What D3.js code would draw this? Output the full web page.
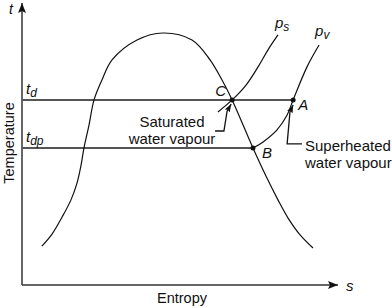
<!DOCTYPE html>
<html><head><meta charset="utf-8">
<script src="https://cdn.jsdelivr.net/npm/d3@7"></script>
<style>
html,body{margin:0;padding:0;background:#fff;}
text{font-family:"Liberation Sans",Arial,sans-serif;fill:#111;}
</style></head>
<body><svg id="c" width="392" height="308"></svg>
<script>
// ---- data (entropy s, temperature t in arbitrary units) ----
const domeS = [0.63,0.95,1.27,1.55,1.74,1.87,1.96,2.12,2.28,2.53,2.85,3.64,4.46,5.38,5.95,6.33,6.65,7.31,7.72,8.10,8.42,8.80,9.21];
const domeT = [1.39,1.82,2.43,3.04,3.64,4.29,4.89,5.71,6.61,7.32,8.04,8.75,9.00,8.75,8.04,7.32,6.61,4.89,3.89,3.04,2.39,1.79,1.32];
const psS = [6.20,6.65,7.09,7.47,7.78,8.10];
const psT = [6.18,6.61,7.14,7.79,8.39,8.93];
const pvS = [7.31,7.63,8.07,8.39,8.58,9.02,9.40];
const pvT = [4.89,5.11,5.54,6.07,6.61,7.79,8.57];
const levelNames = ["d","dp"];
const levelT = [6.61,4.89];
const levelEndS = [8.58,7.31];
const pointNames = ["C","A","B"];
const pointS = [6.65,8.58,7.31];
const pointT = [6.61,6.61,4.89];
const satArrowS = [6.11,6.39,6.49,6.62];
const satArrowT = [5.50,5.50,6.21,6.46];
const supArrowS = [8.86,8.39,8.48,8.58];
const supArrowT = [5.04,5.04,6.18,6.43];
const satLabel = ["Saturated","water vapour"];
const supLabel = ["Superheated","water vapour"];

const svg = d3.select("#c");
const x = d3.scaleLinear().domain([0,10]).range([22,338]);
const y = d3.scaleLinear().domain([0,10]).range([285,5]);

const defs = svg.append("defs");
defs.append("marker").attr("id","axh").attr("viewBox","0 0 10 8").attr("refX",10).attr("refY",4)
  .attr("markerWidth",10).attr("markerHeight",8).attr("markerUnits","userSpaceOnUse").attr("orient","auto")
  .append("path").attr("d","M0,0 L10,4 L0,8 L2,4 Z").attr("fill","#111");
defs.append("marker").attr("id","anh").attr("viewBox","0 0 8 6").attr("refX",8).attr("refY",3)
  .attr("markerWidth",8).attr("markerHeight",6).attr("markerUnits","userSpaceOnUse").attr("orient","auto")
  .append("path").attr("d","M0,0 L8,3 L0,6 L1.5,3 Z").attr("fill","#111");

// axes
svg.append("line").attr("x1",x(0)).attr("y1",y(0)).attr("x2",x(0)).attr("y2",y(10)-2)
  .attr("stroke","#333").attr("stroke-width",1.5).attr("marker-end","url(#axh)");
svg.append("line").attr("x1",x(0)).attr("y1",y(0)).attr("x2",x(10)).attr("y2",y(0))
  .attr("stroke","#333").attr("stroke-width",1.5).attr("marker-end","url(#axh)");
svg.append("text").attr("x",x(0)-13).attr("y",14).attr("font-size",14).attr("font-style","italic").text("t");
svg.append("text").attr("x",x(10)+8).attr("y",y(0)+6).attr("font-size",15).attr("font-style","italic").text("s");
svg.append("text").attr("x",182).attr("y",303).attr("text-anchor","middle").attr("font-size",14.5).text("Entropy");
svg.append("text").attr("transform","translate(14,143) rotate(-90)").attr("text-anchor","middle").attr("font-size",14.5).text("Temperature");

// level lines
levelT.forEach((t,i)=>{
  svg.append("line").attr("x1",x(0)).attr("x2",x(levelEndS[i])).attr("y1",y(t)).attr("y2",y(t))
    .attr("stroke","#555").attr("stroke-width",2);
  const tx = svg.append("text").attr("x",x(0)+4).attr("y",y(t)-6).attr("font-size",15).attr("font-style","italic");
  tx.append("tspan").text("t");
  tx.append("tspan").attr("dy",3).attr("font-size",12).text(levelNames[i]);
});

const line = d3.line().x(d=>x(d[0])).y(d=>y(d[1])).curve(d3.curveCatmullRom.alpha(0.5));
const zip=(a,b)=>a.map((v,i)=>[v,b[i]]);
svg.append("path").attr("d",line(zip(domeS,domeT))).attr("fill","none").attr("stroke","#111").attr("stroke-width",1.2);
svg.append("path").attr("d",line(zip(psS,psT))).attr("fill","none").attr("stroke","#111").attr("stroke-width",1.2);
svg.append("path").attr("d",line(zip(pvS,pvT))).attr("fill","none").attr("stroke","#111").attr("stroke-width",1.2);

// curve labels
function sub(xp,yp,main,s){
  const t=svg.append("text").attr("x",xp).attr("y",yp).attr("font-size",15).attr("font-style","italic");
  t.append("tspan").text(main);
  t.append("tspan").attr("dy",3).attr("font-size",12).text(s);
}
sub(x(psS[psS.length-1])-3, y(psT[psT.length-1])-7, "p","s");
sub(x(pvS[pvS.length-1])-4, y(pvT[pvT.length-1])-9, "p","v");

// points
svg.selectAll("circle.pt").data(pointNames).enter().append("circle")
  .attr("cx",(d,i)=>x(pointS[i])).attr("cy",(d,i)=>y(pointT[i])).attr("r",2.5).attr("fill","#111");
const off = {C:[-17,-4],A:[5,10],B:[9,10]};
svg.selectAll("text.pl").data(pointNames).enter().append("text")
  .attr("x",(d,i)=>x(pointS[i])+off[d][0]).attr("y",(d,i)=>y(pointT[i])+off[d][1])
  .attr("font-size",15).attr("font-style","italic").text(d=>d);

// annotation arrows
const pl = d3.line().x(d=>x(d[0])).y(d=>y(d[1]));
[[satArrowS,satArrowT],[supArrowS,supArrowT]].forEach(([a,b])=>{
  svg.append("path").attr("d",pl(zip(a,b))).attr("fill","none").attr("stroke","#111").attr("stroke-width",1.3).attr("marker-end","url(#anh)");
});
const st = svg.append("text").attr("text-anchor","middle").attr("font-size",15);
satLabel.forEach((s,i)=>st.append("tspan").attr("x",172).attr("y",127+i*17).text(s));
const su = svg.append("text").attr("font-size",15);
supLabel.forEach((s,i)=>su.append("tspan").attr("x",305).attr("y",151+i*17).text(s));
</script></body></html>
